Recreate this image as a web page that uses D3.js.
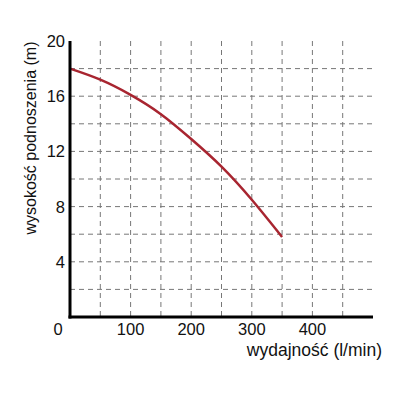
<!DOCTYPE html>
<html>
<head>
<meta charset="utf-8">
<script src="https://cdn.jsdelivr.net/npm/d3@7"></script>
<style>
  body { margin: 0; background: #fff; }
  svg { display: block; font-family: "Liberation Sans", Arial, sans-serif; }
</style>
</head>
<body>
<script>
// pump curve
const flow = [0, 50, 100, 150, 200, 250, 300, 350];
const head = [18, 17.2, 16.1, 14.7, 12.9, 10.9, 8.5, 5.8];
const xTicks = [0, 100, 200, 300, 400];
const yTicks = [4, 8, 12, 16, 20];
const xGrid = [50, 100, 150, 200, 250, 300, 350, 400, 450];
const yGrid = [2, 4, 6, 8, 10, 12, 14, 16, 18];

let w = 400, h = 400;
let padLeft = 70, padRight = 373, padTop = 41, padBottom = 317;

let svg = d3.select('body')
    .append('svg')
    .attr('width', w)
    .attr('height', h);

let x = d3.scaleLinear().domain([0, 500]).range([padLeft, padRight]);
let y = d3.scaleLinear().domain([0, 20]).range([padBottom, padTop]);

// dashed grid
svg.append('g')
    .selectAll('line')
    .data(xGrid)
    .enter()
    .append('line')
    .attr('x1', d => x(d)).attr('x2', d => x(d))
    .attr('y1', y(20)).attr('y2', y(0))
    .attr('stroke', '#777')
    .attr('stroke-width', 1)
    .attr('stroke-dasharray', '5,4');

svg.append('g')
    .selectAll('line')
    .data(yGrid)
    .enter()
    .append('line')
    .attr('x1', x(0)).attr('x2', x(500))
    .attr('y1', d => y(d)).attr('y2', d => y(d))
    .attr('stroke', '#777')
    .attr('stroke-width', 1)
    .attr('stroke-dasharray', '5,4');

// curve
let line = d3.line()
    .x((d, i) => x(flow[i]))
    .y(d => y(d))
    .curve(d3.curveNatural);

svg.append('path')
    .datum(head)
    .attr('d', line)
    .attr('fill', 'none')
    .attr('stroke', '#a82530')
    .attr('stroke-width', 2.5);

// axes lines
svg.append('line')
    .attr('x1', x(0)).attr('x2', x(0))
    .attr('y1', y(20)).attr('y2', y(0) + 1.5)
    .attr('stroke', '#000').attr('stroke-width', 3);
svg.append('line')
    .attr('x1', x(0) - 1.5).attr('x2', x(500))
    .attr('y1', y(0)).attr('y2', y(0))
    .attr('stroke', '#000').attr('stroke-width', 3);

// tick labels
svg.append('g')
    .selectAll('text')
    .data(yTicks)
    .enter()
    .append('text')
    .attr('x', x(0) - 5)
    .attr('y', d => y(d) + 6)
    .attr('text-anchor', 'end')
    .attr('font-size', 16.5)
    .attr('fill', '#111')
    .text(d => d);

svg.append('g')
    .selectAll('text')
    .data(xTicks)
    .enter()
    .append('text')
    .attr('x', d => d === 0 ? x(0) - 12 : x(d))
    .attr('y', 335)
    .attr('text-anchor', 'middle')
    .attr('font-size', 16.5)
    .attr('fill', '#111')
    .text(d => d);

// axis titles
svg.append('text')
    .attr('x', 382)
    .attr('y', 356)
    .attr('text-anchor', 'end')
    .attr('font-size', 17.5)
    .attr('fill', '#111')
    .text('wydajność (l/min)');

svg.append('text')
    .attr('transform', 'translate(36,138) rotate(-90)')
    .attr('text-anchor', 'middle')
    .attr('font-size', 16)
    .attr('fill', '#111')
    .text('wysokość podnoszenia (m)');
</script>
</body>
</html>
